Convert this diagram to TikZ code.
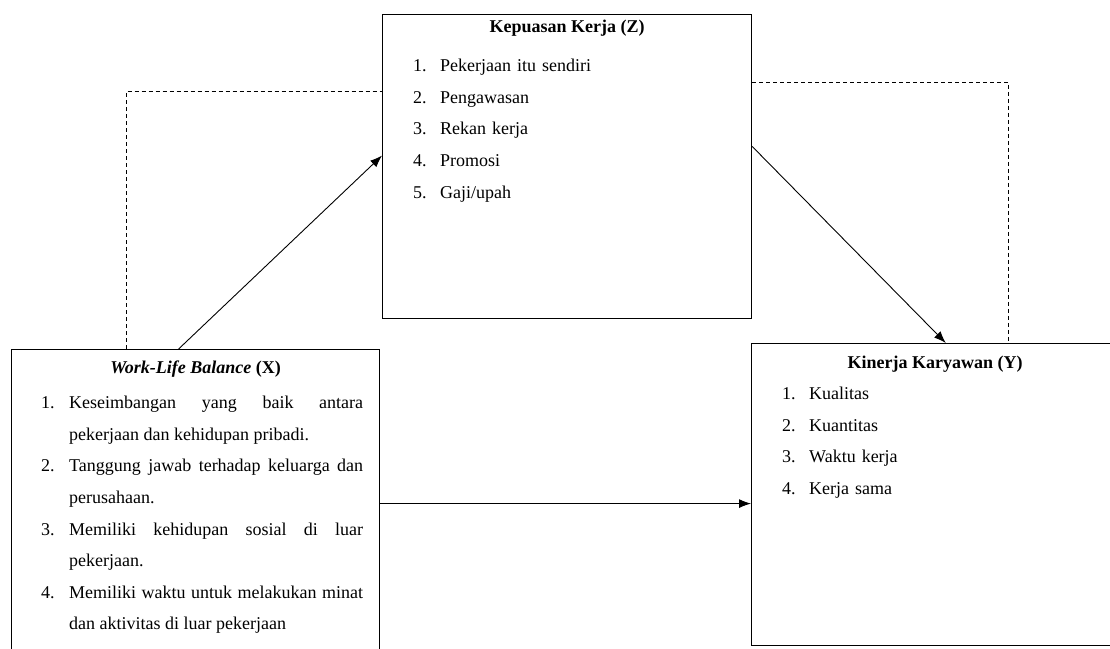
\documentclass[tikz,border=0pt]{standalone}
\usepackage{fontspec}
\setmainfont{Liberation Serif}
\usetikzlibrary{positioning, arrows.meta, calc}

% numbered line with hanging indent
\newcommand{\numitem}[3]{\hangindent=#1\hangafter=1\noindent\makebox[#1][l]{#2}#3\par}

\begin{document}
\begin{tikzpicture}[
  x=1pt, y=1pt,
  font=\fontsize{18pt}{31.6pt}\selectfont,
  box/.style={draw, line width=1.2pt, inner sep=0pt, anchor=north west},
  ttl/.style={font=\fontsize{18pt}{22pt}\selectfont\bfseries, inner sep=0pt},
  lst/.style={inner sep=0pt, anchor=north west, text width=#1},
  lst/.default=300pt,
  edge/.style={-{Latex[length=12pt, width=9pt]}, line width=0.9pt},
  dashedge/.style={line width=0.9pt, dash pattern=on 4pt off 3pt},
]
\useasboundingbox (0,0) rectangle (1110,648);

% ------------------- BOXES -------------------
\node[box, minimum width=368pt, minimum height=308pt] (wlb) at (11,299) {};
\node[box, minimum width=369pt, minimum height=304pt] (kk) at (382,634) {};
\node[box, minimum width=367pt, minimum height=302pt] (kin) at (751,305) {};

% ------------------- TITLES -------------------
\node[ttl, below=12pt of wlb.north] (wlbttl) {\textit{Work-Life Balance} (X)};
\node[ttl, below=6pt of kk.north] (kkttl) {Kepuasan Kerja (Z)};
\node[ttl, below=13pt of kin.north] (kinttl) {Kinerja Karyawan (Y)};

% ------------------- INDICATORS -------------------
\node[lst=322pt, align=justify] (wlblst) at ($(wlb.north west)+(30,-47)$) {%
  \numitem{28pt}{1.}{Keseimbangan yang baik antara\linebreak pekerjaan dan kehidupan pribadi.}
  \numitem{28pt}{2.}{Tanggung jawab terhadap keluarga dan\linebreak perusahaan.}
  \numitem{28pt}{3.}{Memiliki kehidupan sosial di luar\linebreak pekerjaan.}
  \numitem{28pt}{4.}{Memiliki waktu untuk melakukan minat\linebreak dan aktivitas di luar pekerjaan}};

\node[lst, align=left] (kklst) at ($(kk.north west)+(31,-45)$) {%
  \numitem{27pt}{1.}{Pekerjaan itu sendiri}
  \numitem{27pt}{2.}{Pengawasan}
  \numitem{27pt}{3.}{Rekan kerja}
  \numitem{27pt}{4.}{Promosi}
  \numitem{27pt}{5.}{Gaji/upah}};

\node[lst, align=left] (kinlst) at ($(kin.north west)+(31,-44)$) {%
  \numitem{27pt}{1.}{Kualitas}
  \numitem{27pt}{2.}{Kuantitas}
  \numitem{27pt}{3.}{Waktu kerja}
  \numitem{27pt}{4.}{Kerja sama}};

% ------------------- PATHS -------------------
\draw[edge] ($(wlb.north west)!0.454!(wlb.north east)$) -- ($(kk.north west)!0.464!(kk.south west)$);
\draw[edge] ($(kk.north east)!0.434!(kk.south east)$) -- ($(kin.north west)!0.529!(kin.north east)$);
\draw[edge] (wlb.east) -- (wlb.east -| kin.west);

% indirect effect (dashed)
\draw[dashedge] ($(wlb.north west)!0.3125!(wlb.north east)$) |- ($(kk.north west)!0.253!(kk.south west)$);
\draw[dashedge] ($(kk.north east)!0.224!(kk.south east)$) -| ($(kin.north west)!0.70!(kin.north east)$);

\end{tikzpicture}
\end{document}
